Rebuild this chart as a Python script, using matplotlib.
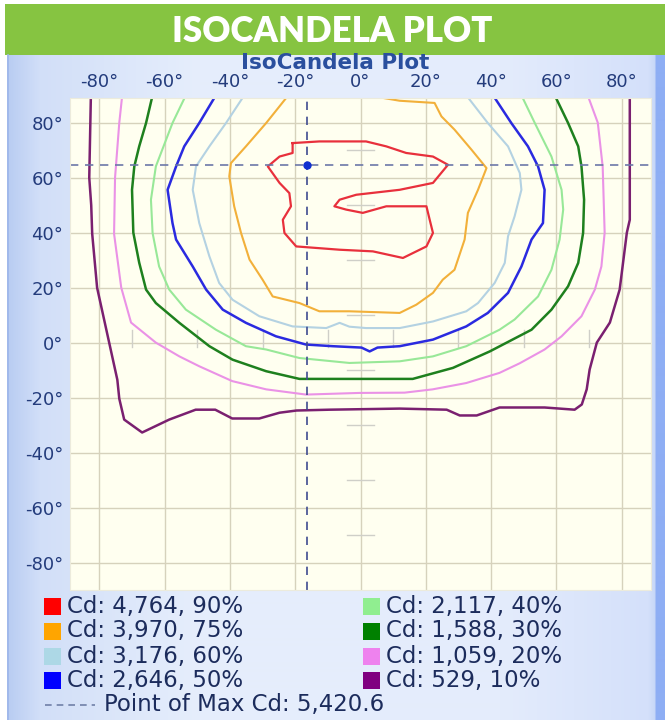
import numpy as np
import matplotlib.pyplot as plt
from matplotlib.patches import Rectangle

# ---- data (degrees: horizontal angle, vertical angle) ----
levels = ["Cd: 4,764, 90%", "Cd: 3,970, 75%", "Cd: 3,176, 60%", "Cd: 2,646, 50%",
          "Cd: 2,117, 40%", "Cd: 1,588, 30%", "Cd: 1,059, 20%", "Cd: 529, 10%"]
level_colors = ["#ff0000", "#ffa500", "#add8e6", "#0000ff",
                "#90ee90", "#008000", "#ee82ee", "#800080"]
max_label = "Point of Max Cd: 5,420.6"
max_point = (-16.3, 64.7)

x_ticks = [-80, -60, -40, -20, 0, 20, 40, 60, 80]
y_ticks = [-80, -60, -40, -20, 0, 20, 40, 60, 80]

cd90_x = [-20.8, -12.6, 1.7, 7.9, 14.0, 22.2, 26.8, 22.2, 12.0, -1.3, -6.4, -8.0, -4.4, 0.7, 7.9,
          20.2, 21.2, 22.2, 20.2, 13.0, 3.8, -6.4, -19.7, -23.3, -23.8, -21.3, -21.8, -24.8,
          -28.4, -24.8, -20.8, -20.8]
cd90_y = [72.6, 73.2, 73.2, 71.4, 69.0, 67.7, 64.7, 58.1, 55.6, 53.8, 52.0, 49.6, 48.4, 47.2, 49.6,
          49.6, 44.7, 39.9, 35.0, 30.8, 33.2, 33.8, 35.0, 39.9, 44.7, 49.6, 54.4, 58.1,
          64.1, 67.7, 69.0, 72.6]

cd75_x = [-22.1, -28.9, -35.1, -39.7, -40.2, -38.7, -36.6, -34.0, -30.0, -26.9, -18.7, -12.6,
          -3.4, 12.0, 17.1, 22.2, 25.2, 28.8, 31.9, 32.9, 36.0, 38.6, 34.0, 28.8, 24.8, 22.7,
          12.0, 2.1]
cd75_y = [90, 79.9, 71.4, 65.3, 60.5, 49.6, 39.9, 30.2, 22.9, 16.8, 14.4, 11.4,
          11.4, 10.8, 13.8, 18.1, 22.9, 26.5, 37.5, 47.2, 55.6, 63.5, 70.2, 77.5, 82.3, 87.2,
          88.0, 90]

cd60_x = [-35.6, -41.2, -46.3, -50.4, -51.4, -49.4, -46.3, -43.3, -39.2, -31.0, -20.8, -10.5,
          -6.4, -3.4, 1.7, 12.0, 22.2, 32.4, 36.0, 41.1, 44.2, 45.2, 47.2, 49.3, 48.8, 45.2,
          39.0, 32.4]
cd60_y = [90, 79.9, 71.4, 64.1, 55.6, 43.5, 31.4, 21.7, 15.6, 9.6, 5.9, 5.3,
          7.2, 5.8, 5.3, 5.3, 7.7, 11.4, 14.4, 21.7, 29.0, 38.7, 45.9, 55.6, 61.7, 71.4,
          79.9, 90]

cd50_x = [-44.3, -49.4, -54.0, -56.5, -59.1, -57.6, -56.5, -51.4, -47.3, -42.2, -35.1, -25.9,
          -16.7, -8.5, 0.3, 2.8, 5.2, 12.0, 22.2, 32.4, 39.0, 45.2, 49.3, 52.4, 55.9, 56.4,
          54.4, 51.3, 46.2, 40.6]
cd50_y = [90, 79.9, 71.4, 64.1, 55.6, 43.5, 37.5, 27.7, 19.3, 12.0, 7.2, 2.3,
          -0.7, -1.3, -1.8, -3.2, -1.8, -1.3, 1.1, 5.9, 10.8, 18.1, 27.7, 37.5, 43.5, 55.6,
          64.1, 71.4, 79.9, 90]

cd40_x = [-53.5, -57.6, -62.7, -64.2, -63.7, -61.7, -58.6, -53.5, -44.3, -35.1, -28.9, -18.7,
          -3.4, 12.0, 22.2, 32.4, 42.6, 47.2, 54.4, 58.5, 61.0, 62.1, 61.6, 58.5, 53.4, 49.3]
cd40_y = [90, 79.9, 64.1, 52.0, 39.9, 27.7, 19.3, 12.0, 4.7, -1.3, -2.5, -5.6,
          -7.4, -6.8, -5.0, -1.3, 4.7, 8.4, 16.8, 26.5, 37.5, 48.4, 55.6, 67.7, 79.9, 90]

cd30_x = [-63.7, -65.7, -67.8, -69.3, -70.0, -69.6, -67.8, -65.7, -62.7, -55.5, -46.3, -39.2,
          -28.9, -18.7, 16.0, 28.3, 39.6, 52.4, 58.5, 63.6, 66.7, 68.2, 68.5, 67.7, 66.7, 63.6,
          59.5]
cd30_y = [90, 79.9, 71.4, 64.1, 55.6, 40.0, 29.1, 19.3, 14.4, 7.2, -1.3, -6.2,
          -10.4, -13.2, -13.2, -9.2, -3.2, 4.7, 12.0, 20.5, 29.0, 39.9, 52.0, 64.1, 71.4, 79.9,
          90]

cd20_x = [-73.0, -73.9, -75.2, -75.5, -73.3, -70.3, -62.7, -55.5, -49.4, -39.3, -28.9, -16.7,
          -0.3, 13.5, 22.1, 32.4, 42.6, 48.8, 56.4, 61.6, 67.7, 71.8, 73.8, 74.8, 74.2, 72.7,
          69.6]
cd20_y = [90, 80.0, 60.0, 39.6, 20.0, 7.3, 0.0, -5.0, -8.6, -14.0, -17.0, -18.9,
          -18.3, -18.2, -17.0, -14.7, -11.0, -7.5, -2.5, 2.3, 9.6, 19.3, 27.7, 40.0, 64.0, 80.0,
          90]

cd10_x = [-82.6, -83.1, -82.5, -82.2, -80.7, -77.0, -74.5, -73.9, -72.4, -66.9, -58.6, -50.5,
          -44.5, -39.3, -31.0, -24.8, -19.6, -9.5, 12.0, 26.4, 30.4, 35.6, 42.6, 56.4, 65.6,
          67.8, 69.3, 70.2, 72.4, 76.4, 79.4, 81.6, 82.5, 82.5]
cd10_y = [90, 60.0, 50.0, 39.6, 20.0, 0.0, -13.5, -20.4, -28.0, -32.7, -28.0, -24.4,
          -24.4, -27.6, -27.6, -25.5, -24.7, -24.4, -24.0, -24.4, -26.5, -26.5, -23.6, -23.6, -24.4,
          -22.5, -17.0, -9.8, 0.0, 7.3, 19.3, 40.0, 44.7, 90]

curves = [(cd90_x, cd90_y), (cd75_x, cd75_y), (cd60_x, cd60_y), (cd50_x, cd50_y),
          (cd40_x, cd40_y), (cd30_x, cd30_y), (cd20_x, cd20_y), (cd10_x, cd10_y)]
line_colors = ["#e8303c", "#f2b03a", "#b4d2e2", "#2a2ae0",
               "#98e898", "#1e801e", "#ea92e6", "#7a2070"]
line_widths = [1.6, 1.5, 1.5, 1.8, 1.5, 1.8, 1.5, 1.8]

W, H = 665, 720
fig = plt.figure(figsize=(W / 100, H / 100), dpi=100)

# background panel in pixel coordinates
bg = fig.add_axes([0, 0, 1, 1], zorder=0)
bg.axis("off")

stops_x = [7, 40, 200, 500, 648, 654, 656, 665]
stops_c = ["#b8ccf2", "#d2dff8", "#e6eefc", "#e4ecfc", "#d4e0fa", "#c8d8f8", "#8eaef4", "#8eaef4"]
rgb = np.array([[int(c[i:i + 2], 16) / 255 for i in (1, 3, 5)] for c in stops_c])
cols = np.arange(7, W)
grad = np.stack([np.interp(cols, stops_x, rgb[:, k]) for k in range(3)], axis=-1)
bg.imshow(grad[np.newaxis, :, :], extent=(7, W, H, 55), aspect="auto", interpolation="bilinear")
bg.set_xlim(0, W)
bg.set_ylim(H, 0)
bg.plot([7.5, 7.5], [55, H], color="#9db6ea", lw=1.2)

bg.add_patch(Rectangle((5, 4), W - 5, 51, color="#86c441", lw=0))
bg.text(332, 31, "ISOCANDELA PLOT", color="white", fontsize=25, fontweight="heavy",
        family="Lato", ha="center", va="center")
bg.text(335, 63, "IsoCandela Plot", color="#2a4f9e", fontsize=15.5, fontweight="bold",
        ha="center", va="center")

# legend
row_y = [606, 631, 656, 680]
for i, (lab, col) in enumerate(zip(levels, level_colors)):
    cx = 44 if i < 4 else 363
    cy = row_y[i % 4]
    bg.add_patch(Rectangle((cx, cy - 8.5), 17, 17, color=col, lw=0))
    bg.text(cx + 23, cy, lab, color="#1c2c5c", fontsize=16.5, va="center", ha="left")
bg.plot([45, 95], [705, 705], color="#7080a8", lw=1.2, dashes=(4, 3))
bg.text(104, 705, max_label, color="#1c2c5c", fontsize=16.5, va="center", ha="left")

# plot
ax = fig.add_axes([70 / W, 1 - 590 / H, 581 / W, 492 / H], zorder=1)
ax.set_facecolor("#fffff0")
ax.set_xlim(-89, 89)
ax.set_ylim(-90, 89)
ax.set_xticks(x_ticks)
ax.set_yticks(y_ticks)
ax.set_xticklabels([f"{v}°" for v in x_ticks])
ax.set_yticklabels([f"{v}°" for v in y_ticks])
ax.xaxis.tick_top()
ax.tick_params(length=0, labelsize=13, labelcolor="#243c7c", pad=5)
ax.grid(color="#d6d2bc", lw=1)
for s in ax.spines.values():
    s.set_color("#ecebdc")

# small centre ticks along the 0° lines
for v in np.arange(-70, 80, 20):
    ax.plot([v, v], [-1.5, 4.5], color="#cfcfc8", lw=1)
    ax.plot([-4, 4], [v, v], color="#cfcfc8", lw=1)

for (cx, cy), col, lw in zip(curves, line_colors, line_widths):
    ax.plot(cx, cy, color=col, lw=lw, solid_joinstyle="round")

ax.axvline(max_point[0], color="#404c90", lw=1.2, dashes=(5, 4))
ax.axhline(max_point[1], color="#6c78a8", lw=1.2, dashes=(5, 4))
ax.plot(*max_point, "o", color="#1030d0", ms=5)

fig.savefig("out.png", dpi=100)
